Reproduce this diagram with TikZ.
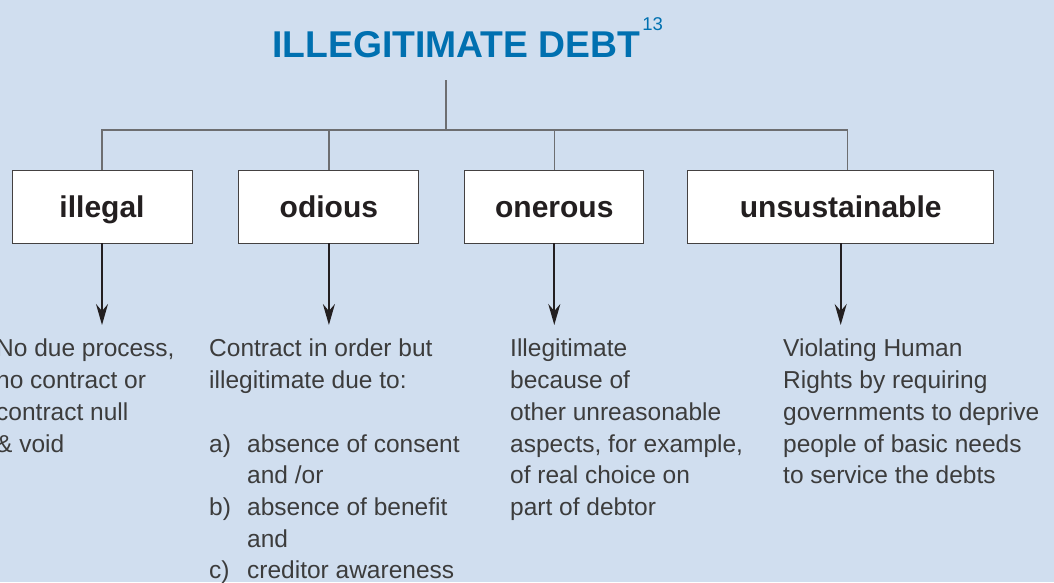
\documentclass[tikz,border=0pt]{standalone}
\usepackage{fontspec}
\setmainfont{Liberation Sans}
\usetikzlibrary{arrows.meta,positioning}
\definecolor{bg}{HTML}{D0DEEF}
\definecolor{headblue}{HTML}{0070B0}
\definecolor{ink}{HTML}{231F20}
\definecolor{stem}{HTML}{6D6E71}
\definecolor{body}{HTML}{3C3C3C}
\tikzset{
 kind/.style={draw=ink!85,fill=white,line width=.9pt,minimum width=180pt,minimum height=73pt,inner sep=0pt,
   text height=23pt,text depth=2pt,font=\fontsize{30}{30}\selectfont\bfseries,text=ink},
 tree/.style={draw=stem,line width=1.3pt},
 down/.style={-{Stealth[length=21pt,width=12pt,inset=7pt]},draw=ink,line width=2pt,shorten >=14pt},
 note/.style={anchor=north west,inner sep=0pt,align=left,text=body,font=\fontsize{24.5}{31.7}\selectfont}
}
\begin{document}
\begin{tikzpicture}[x=1pt,y=-1pt]
  \useasboundingbox (0,0) rectangle (1054,582);
  \clip (0,0) rectangle (1054,582);
  \fill[bg] (0,0) rectangle (1054,582);

  \node[anchor=base west,inner sep=0pt,text=headblue,font=\fontsize{37.3}{38}\selectfont\bfseries] (title) at (272,57)
    {ILLEGITIMATE DEBT\raisebox{27pt}{\fontsize{18.5}{19}\selectfont\mdseries\kern2pt 13}};

  \node[kind] (illegal) at (102,206.5) {illegal};
  \node[kind,right=46pt of illegal] (odious) {odious};
  \node[kind,minimum width=179pt,right=45pt of odious] (onerous) {onerous};
  \node[kind,minimum width=306pt,right=43pt of onerous] (unsust) {unsustainable};

  % tree above the boxes
  \coordinate (root) at (446,80);
  \coordinate (hub) at (446,130);
  \draw[tree] (root) -- (hub);
  \foreach \b in {illegal,odious,onerous}
    \draw[tree] (\b.north) |- (hub);
  \draw[tree] ([xshift=6.5pt]unsust.north) |- (hub);

  \node[note] (illtxt) at (-4,339) {No due process,\\no contract or\\contract null\\\& void};
  \node[note] (odtxt) at (209,339) {Contract in order but\\illegitimate due to:\\[31.7pt]
    \makebox[38pt][l]{a)}absence of consent\\\hspace*{38pt}and /or\\
    \makebox[38pt][l]{b)}absence of benefit\\\hspace*{38pt}and\\
    \makebox[38pt][l]{c)}creditor awareness};
  \node[note] (ontxt) at (510,339) {Illegitimate\\because of\\other unreasonable\\aspects, for example,\\of real choice on\\part of debtor};
  \node[note] (untxt) at (783,339) {Violating Human\\Rights by requiring\\governments to deprive\\people of basic needs\\to service the debts};

  \foreach \b/\t in {illegal/illtxt,odious/odtxt,onerous/ontxt,unsust/untxt}
    \draw[down] (\b.south) -- (\b.south |- \t.north);
\end{tikzpicture}
\end{document}
